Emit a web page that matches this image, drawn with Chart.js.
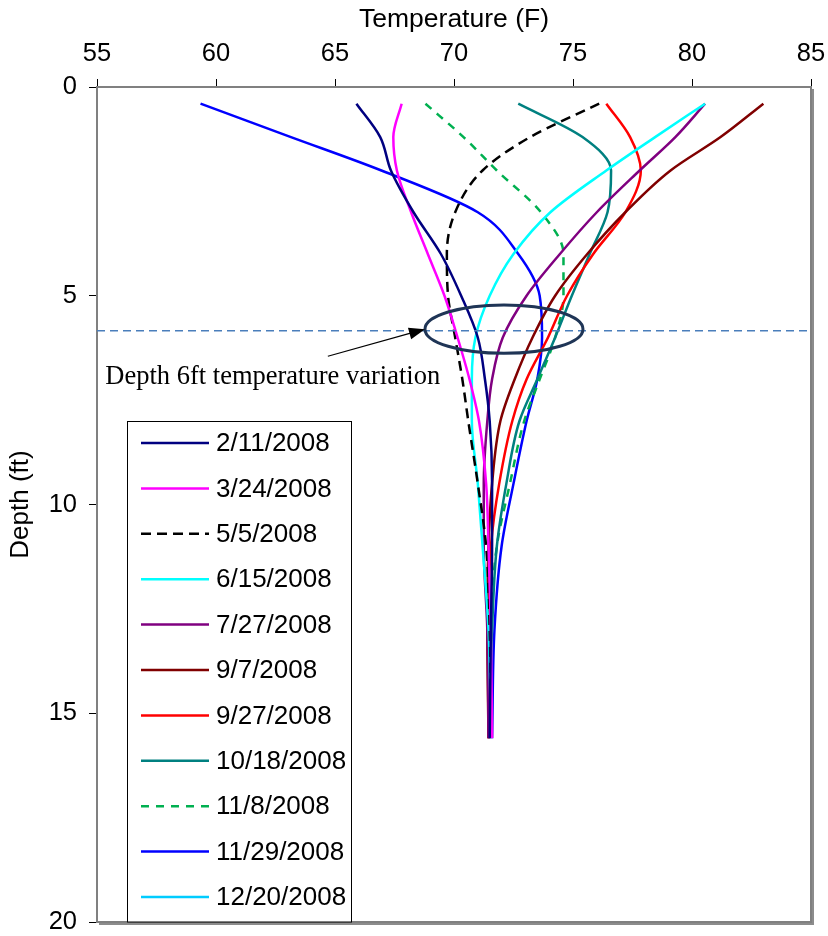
<!DOCTYPE html>
<html>
<head>
<meta charset="utf-8">
<script src="https://cdn.jsdelivr.net/npm/chart.js@4.4.1/dist/chart.umd.min.js"></script>
<style>
  html, body { margin: 0; padding: 0; background: #fff; }
  #wrap { width: 828px; height: 936px; }
</style>
</head>
<body>
<div id="wrap"><canvas id="depthChart" width="828" height="936"></canvas></div>
<script>
// depth (ft) of each reading, shared by all dates
const depths = [0.4, 1.2, 2.0, 3.0, 4.0, 5.0, 6.0, 7.0, 8.0, 9.5, 11, 13, 15.6]

// soil temperature (F) per date
const temp_0211 = [65.9, 66.9, 67.35, 68.3, 69.45, 70.3, 71.0, 71.3, 71.5, 71.6, 71.6, 71.55, 71.5]
const temp_0324 = [67.8, 67.45, 67.6, 68.2, 68.9, 69.6, 70.15, 70.65, 71.05, 71.35, 71.45, 71.55, 71.6]
const temp_0505 = [76.1, 73.2, 71.2, 70.05, 69.7, 69.75, 70.05, 70.35, 70.6, 71.0, 71.35, 71.5, 71.55]
const temp_0615 = [80.55, 78.45, 76.4, 74.05, 72.5, 71.5, 70.9, 70.75, 70.75, 71.0, 71.2, 71.45, 71.55]
const temp_0727 = [80.55, 79.3, 77.8, 76.0, 74.45, 73.05, 72.05, 71.6, 71.4, 71.25, 71.25, 71.4, 71.45]
const temp_0907 = [83.0, 81.2, 79.1, 77.2, 75.6, 74.25, 73.3, 72.55, 71.95, 71.6, 71.45, 71.4, 71.45]
const temp_0927 = [76.4, 77.4, 77.85, 77.2, 75.85, 74.75, 73.95, 73.05, 72.45, 71.9, 71.55, 71.45, 71.45]
const temp_1018 = [72.7, 75.4, 76.6, 76.45, 75.7, 74.95, 74.25, 73.5, 72.75, 72.2, 71.8, 71.6, 71.5]
const temp_1108 = [68.8, 70.4, 71.8, 73.65, 74.6, 74.6, 74.25, 73.6, 72.95, 72.35, 71.8, 71.55, 71.5]
const temp_1129 = [59.35, 63.15, 66.95, 71.0, 72.7, 73.6, 73.7, 73.5, 73.05, 72.5, 72.0, 71.7, 71.6]
const temp_1220 = []

const dateLabels = ['2/11/2008', '3/24/2008', '5/5/2008', '6/15/2008', '7/27/2008', '9/7/2008',
  '9/27/2008', '10/18/2008', '11/8/2008', '11/29/2008', '12/20/2008']
const allTemps = [temp_0211, temp_0324, temp_0505, temp_0615, temp_0727, temp_0907,
  temp_0927, temp_1018, temp_1108, temp_1129, temp_1220]
const lineColors = ['#000080', '#FF00FF', '#000000', '#00FFFF', '#800080', '#800000',
  '#FF0000', '#008080', '#00B050', '#0000FF', '#00CCFF']
const lineDashes = [[], [], [10, 6], [], [], [], [], [], [8, 7], [], []]

// x ticks, y ticks
const tempTicks = [55, 60, 65, 70, 75, 80, 85]
const depthTicks = [0, 5, 10, 15, 20]

// the callout: 6 ft depth line, ellipse round it, arrow and note
const markDepth = 5.84
const ringCenter = [72.1, 5.8]
const ringRadius = [3.32, 0.58]
const arrowTail = [64.7, 6.45]
const noteText = 'Depth 6ft temperature variation'
const notePos = [55.35, 6.95]

const datasets = dateLabels.map((lbl, i) => ({
  label: lbl,
  data: allTemps[i].map((t, j) => ({ x: t, y: depths[j] })),
  borderColor: lineColors[i],
  backgroundColor: lineColors[i],
  borderDash: lineDashes[i],
  borderWidth: 2.5,
  showLine: true,
  pointRadius: 0,
  cubicInterpolationMode: 'monotone'
}))

// no extra room for overhanging tick labels
const noOverhang = s => {
  s.paddingLeft = 0
  s.paddingRight = 0
  s.paddingTop = 0
  s.paddingBottom = 0
}

const plotFrame = {
  id: 'plotFrame',
  beforeDatasetsDraw(chart) {
    const { ctx, chartArea: a } = chart
    ctx.save()
    ctx.strokeStyle = '#808080'
    ctx.lineWidth = 2
    ctx.strokeRect(a.left, a.top, a.right - a.left, a.bottom - a.top)
    ctx.strokeStyle = '#8c8c8c'
    ctx.lineWidth = 2
    ctx.beginPath()
    ctx.moveTo(a.right + 2, a.top + 2)
    ctx.lineTo(a.right + 2, a.bottom + 2)
    ctx.lineTo(a.left + 2, a.bottom + 2)
    ctx.stroke()
    ctx.restore()
  }
}

const callout = {
  id: 'callout',
  afterDatasetsDraw(chart) {
    const { ctx, chartArea: a } = chart
    const xs = chart.scales.x, ys = chart.scales.y
    ctx.save()
    // dashed depth line
    const yLine = ys.getPixelForValue(markDepth)
    ctx.strokeStyle = '#4a7ebb'
    ctx.lineWidth = 1.5
    ctx.setLineDash([8, 5])
    ctx.beginPath()
    ctx.moveTo(a.left, yLine)
    ctx.lineTo(a.right, yLine)
    ctx.stroke()
    ctx.setLineDash([])

    // ellipse
    const cx = xs.getPixelForValue(ringCenter[0])
    const cy = ys.getPixelForValue(ringCenter[1])
    const rx = xs.getPixelForValue(ringCenter[0] + ringRadius[0]) - cx
    const ry = ys.getPixelForValue(ringCenter[1] + ringRadius[1]) - cy
    ctx.strokeStyle = '#1f3556'
    ctx.lineWidth = 3
    ctx.beginPath()
    ctx.ellipse(cx, cy, rx, ry, 0, 0, Math.PI * 2)
    ctx.stroke()

    // arrow
    const tx = xs.getPixelForValue(arrowTail[0]), ty = ys.getPixelForValue(arrowTail[1])
    const hx = cx - rx, hy = cy
    const ang = Math.atan2(hy - ty, hx - tx)
    ctx.strokeStyle = '#000'
    ctx.fillStyle = '#000'
    ctx.lineWidth = 1.2
    ctx.beginPath()
    ctx.moveTo(tx, ty)
    ctx.lineTo(hx - 14 * Math.cos(ang), hy - 14 * Math.sin(ang))
    ctx.stroke()
    ctx.beginPath()
    ctx.moveTo(hx, hy)
    ctx.lineTo(hx - 16 * Math.cos(ang) + 6 * Math.sin(ang), hy - 16 * Math.sin(ang) - 6 * Math.cos(ang))
    ctx.lineTo(hx - 16 * Math.cos(ang) - 6 * Math.sin(ang), hy - 16 * Math.sin(ang) + 6 * Math.cos(ang))
    ctx.closePath()
    ctx.fill()

    // note
    ctx.font = '26.5px "Liberation Serif", "Times New Roman", serif'
    ctx.textBaseline = 'middle'
    ctx.textAlign = 'left'
    ctx.fillText(noteText, xs.getPixelForValue(notePos[0]), ys.getPixelForValue(notePos[1]))
    ctx.restore()
  }
}

const boxLegend = {
  id: 'boxLegend',
  afterDraw(chart) {
    const { ctx, chartArea: a } = chart
    const left = a.left + 30, top = 421, w = 224
    ctx.save()
    ctx.fillStyle = '#fff'
    ctx.fillRect(left, top, w, a.bottom - top)
    ctx.strokeStyle = '#000'
    ctx.lineWidth = 1
    ctx.strokeRect(left + 0.5, top + 0.5, w, a.bottom - top - 0.5)
    ctx.font = '26px "Liberation Sans", Arial, sans-serif'
    ctx.textBaseline = 'middle'
    chart.data.datasets.forEach((ds, i) => {
      const y = top + 22 + i * 45.4
      ctx.strokeStyle = ds.borderColor
      ctx.lineWidth = 2.5
      ctx.setLineDash(ds.borderDash)
      ctx.beginPath()
      ctx.moveTo(left + 14, y)
      ctx.lineTo(left + 82, y)
      ctx.stroke()
      ctx.setLineDash([])
      ctx.fillStyle = '#000'
      ctx.fillText(ds.label, left + 89, y + 1)
    })
    ctx.restore()
  }
}

new Chart(document.getElementById('depthChart'), {
  type: 'scatter',
  data: { datasets },
  options: {
    responsive: false,
    animation: false,
    devicePixelRatio: 1,
    indexAxis: 'y',
    layout: { padding: { left: 0, top: 0, right: 17, bottom: 14 } },
    plugins: {
      legend: { display: false },
      tooltip: { enabled: false }
    },
    scales: {
      x: {
        type: 'linear',
        position: 'top',
        min: 55,
        max: 85,
        afterBuildTicks: s => { s.ticks = tempTicks.map(v => ({ value: v })) },
        afterFit: s => { s.height = 87; noOverhang(s) },
        ticks: { color: '#000', font: { size: 25.5, family: '"Liberation Sans", Arial' }, padding: 10 },
        grid: { drawOnChartArea: false, color: '#000', tickLength: 8 },
        border: { color: '#808080', width: 2 },
        title: { display: true, text: 'Temperature (F)', color: '#000',
          font: { size: 26.5, family: '"Liberation Sans", Arial' }, padding: { top: 4, bottom: 0 } }
      },
      y: {
        type: 'linear',
        reverse: true,
        min: 0,
        max: 20,
        afterBuildTicks: s => { s.ticks = depthTicks.map(v => ({ value: v })) },
        afterFit: s => { s.width = 97; noOverhang(s) },
        ticks: { color: '#000', font: { size: 25.5, family: '"Liberation Sans", Arial' }, padding: 12 },
        grid: { drawOnChartArea: false, color: '#000', tickLength: 8 },
        border: { color: '#000', width: 1.5 },
        title: { display: true, text: 'Depth (ft)', color: '#000',
          font: { size: 26, family: '"Liberation Sans", Arial' }, padding: { top: 5, bottom: 0 } }
      }
    }
  },
  plugins: [plotFrame, callout, boxLegend]
})
</script>
</body>
</html>
